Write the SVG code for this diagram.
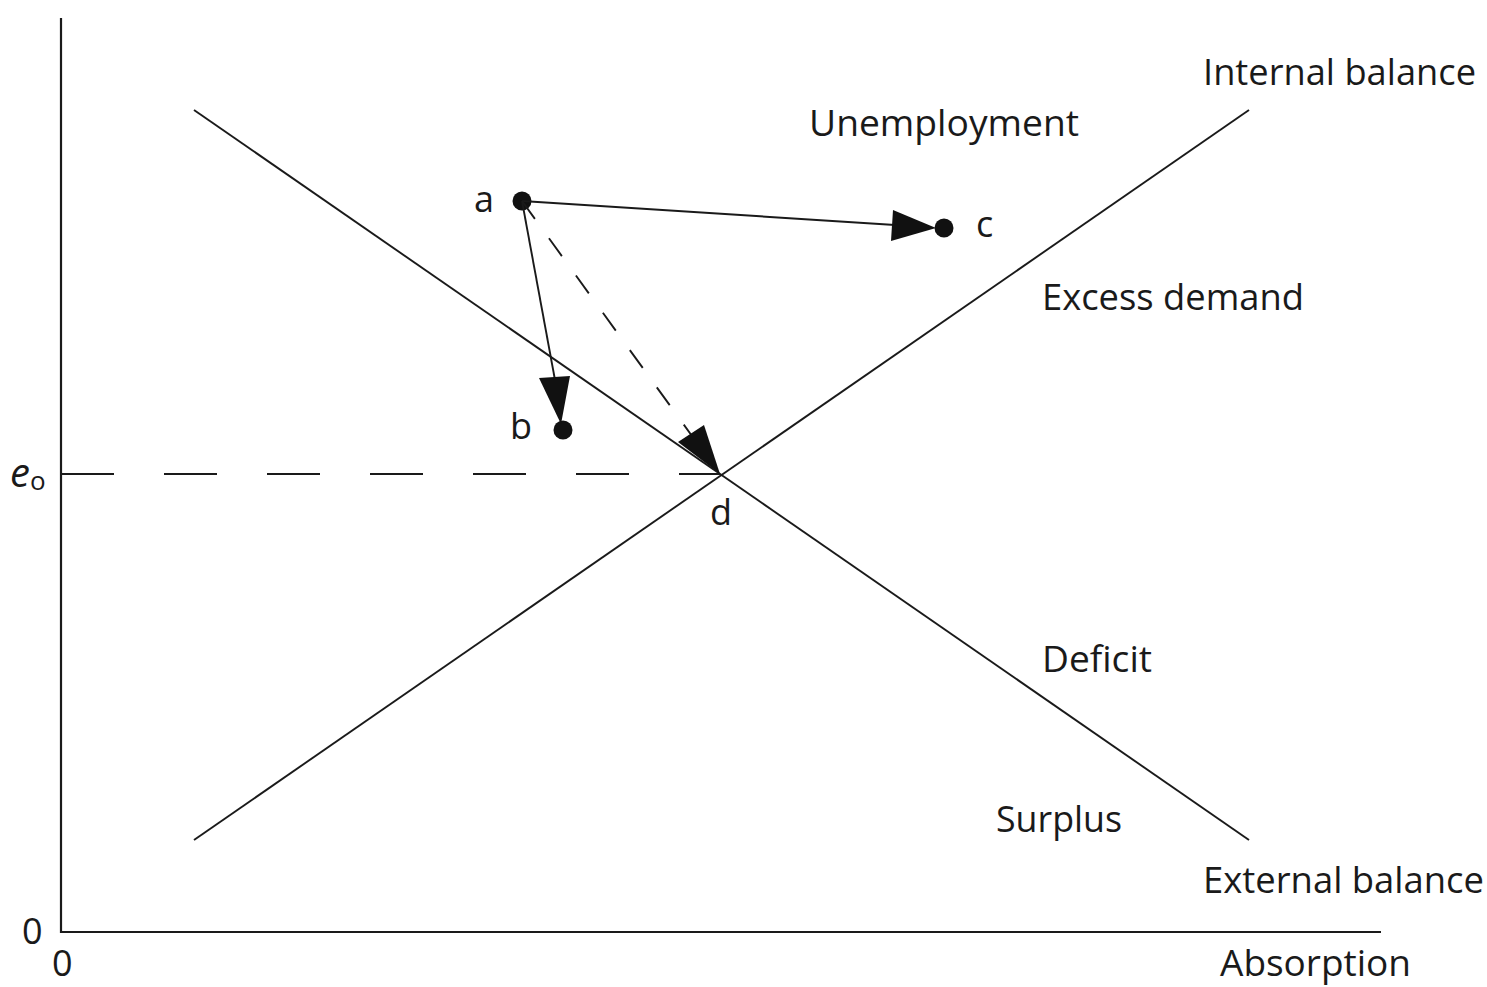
<svg xmlns="http://www.w3.org/2000/svg" width="1487" height="987" viewBox="0 0 1487 987">
<style>
.t{font-family:"Open Sans","Liberation Sans",sans-serif;font-size:36px;fill:#1a1a1a}
.ln{stroke:#1a1a1a;stroke-width:1.9;fill:none}
.ax{stroke:#1a1a1a;stroke-width:2.2;fill:none}
.hd{fill:#111;stroke:none}
.dot{fill:#111}
</style>
<rect width="1487" height="987" fill="#fff"/>
<g id="axes">
<polyline class="ax" points="61,18 61,932 1381,932"/>
<text class="t" x="22" y="944">0</text>
<text class="t" x="52" y="976">0</text>
<text class="t" x="1220" y="976" textLength="191" lengthAdjust="spacingAndGlyphs">Absorption</text>
<text class="t" x="10" y="487" style="font-style:italic;font-size:40px">e<tspan style="font-size:26px;font-style:normal" dy="3">o</tspan></text>
</g>
<g id="external-balance">
<line class="ln" x1="194" y1="110" x2="1249" y2="840"/>
<text class="t" x="1203" y="893" textLength="281" lengthAdjust="spacingAndGlyphs">External balance</text>
</g>
<g id="internal-balance">
<line class="ln" x1="194" y1="840" x2="1249" y2="110"/>
<text class="t" x="1203" y="85" textLength="273" lengthAdjust="spacingAndGlyphs">Internal balance</text>
</g>
<g id="regions">
<text class="t" x="809" y="136" textLength="270" lengthAdjust="spacingAndGlyphs">Unemployment</text>
<text class="t" x="1042" y="310" textLength="262" lengthAdjust="spacingAndGlyphs">Excess demand</text>
<text class="t" x="1042" y="672" textLength="110" lengthAdjust="spacingAndGlyphs">Deficit</text>
<text class="t" x="996" y="832" textLength="126" lengthAdjust="spacingAndGlyphs">Surplus</text>
</g>
<g id="point-a">
<circle class="dot" cx="522" cy="201" r="9.5"/>
<text class="t" x="474" y="212">a</text>
</g>
<g id="point-b">
<circle class="dot" cx="563" cy="430" r="9.5"/>
<text class="t" x="510" y="439">b</text>
</g>
<g id="point-c">
<circle class="dot" cx="944" cy="228" r="9.5"/>
<text class="t" x="976" y="237">c</text>
</g>
<g id="point-d">
<text class="t" x="710" y="525">d</text>
</g>
<g id="connectors">
<line class="ln" x1="61" y1="474" x2="720" y2="474" stroke-dasharray="53 50"/>
<line class="ln" stroke-width="1.5" x1="522" y1="201" x2="895" y2="225"/>
<polygon class="hd" points="936,228 893,210 891,241"/>
<line class="ln" stroke-width="1.5" x1="522" y1="201" x2="555" y2="380"/>
<polygon class="hd" points="561,424 539,378 570,376"/>
<line class="ln" stroke-width="1.5" x1="522" y1="201" x2="692" y2="436" stroke-dasharray="22 24"/>
<polygon class="hd" points="720,474 678,442 704,425"/>
</g>
</svg>
